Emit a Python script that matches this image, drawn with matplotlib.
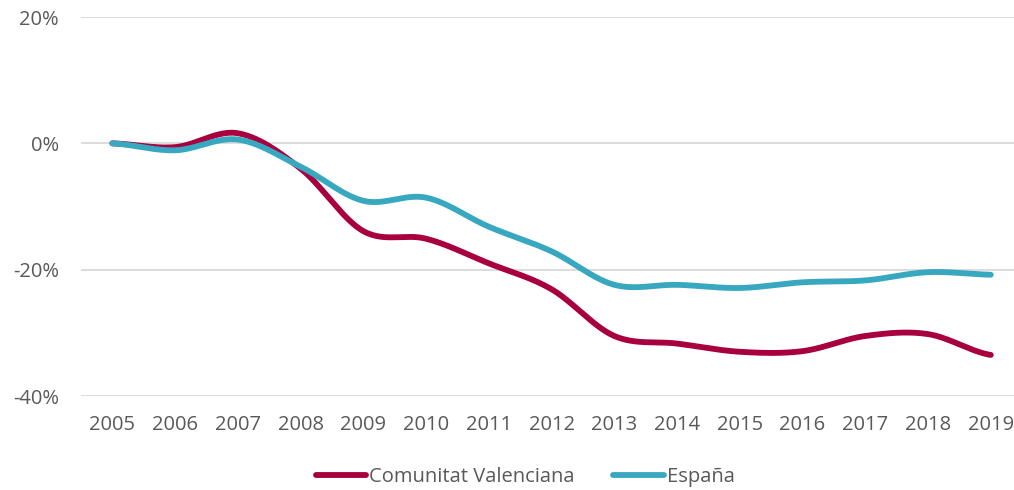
import matplotlib.pyplot as plt
import numpy as np
from matplotlib.ticker import FuncFormatter

# =============================================================================
# variación acumulada desde 2005
# =============================================================================

YEARS = ['2005', '2006', '2007', '2008', '2009', '2010', '2011', '2012',
         '2013', '2014', '2015', '2016', '2017', '2018', '2019']
VALENCIANA = [0.0, -0.6, 1.6, -4.0, -13.9, -15.1, -19.0, -23.1,
              -30.5, -31.7, -33.0, -32.9, -30.5, -30.2, -33.5]
ESPANA = [0.0, -1.1, 0.6, -3.7, -9.1, -8.6, -13.2, -17.1,
          -22.4, -22.4, -22.9, -22.0, -21.7, -20.4, -20.8]
LABEL = ['Comunitat Valenciana', 'España']

RED = '#A8003F'
TEAL = '#38A8C0'
GREY = '#595959'


def smooth(y, n=30):
    # Catmull-Rom curve through the points, like Excel's smoothed lines
    y = np.asarray(y, dtype=float)
    p = np.concatenate([[y[0]], y, [y[-1]]])
    xs, ys = [], []
    for i in range(len(y) - 1):
        p0, p1, p2, p3 = p[i], p[i + 1], p[i + 2], p[i + 3]
        t = np.linspace(0, 1, n, endpoint=False)
        yy = 0.5 * (2 * p1 + (-p0 + p2) * t
                    + (2 * p0 - 5 * p1 + 4 * p2 - p3) * t ** 2
                    + (-p0 + 3 * p1 - 3 * p2 + p3) * t ** 3)
        xs.append(i + t)
        ys.append(yy)
    xs.append([len(y) - 1])
    ys.append([y[-1]])
    return np.concatenate(xs), np.concatenate(ys)


plt.rcParams['font.family'] = ['Open Sans', 'DejaVu Sans']

fig = plt.figure(figsize=(10.14, 4.9), dpi=100)
ax = fig.add_axes([81 / 1014, 94 / 490, 1 - 81 / 1014, 379 / 490])

for series, color, label in zip((VALENCIANA, ESPANA), (RED, TEAL), LABEL):
    x, y = smooth(series)
    ax.plot(x, y, color=color, linewidth=4.2, solid_capstyle='round',
            label=label)

ax.set_xlim(-0.5, 14.37)
ax.set_ylim(-40, 20)
ax.set_yticks([-40, -20, 0, 20])
ax.yaxis.set_major_formatter(FuncFormatter(lambda v, _: f'{v:.0f}%'))
ax.set_xticks(range(len(YEARS)))
ax.set_xticklabels(YEARS)
ax.grid(axis='y', color='#D9D9D9', linewidth=1.3)
ax.set_axisbelow(True)
for s in ax.spines.values():
    s.set_visible(False)
ax.tick_params(length=0, labelsize=14.5, colors=GREY)
ax.tick_params(axis='y', pad=16)
ax.tick_params(axis='x', pad=14)

fig.legend(loc='center', bbox_to_anchor=(0.518, 1 - 477 / 490), ncol=2,
           frameon=False, fontsize=14.5, labelcolor=GREY, handlelength=2.5,
           handletextpad=0.15, columnspacing=1.9)

fig.savefig('out.png', dpi=100)
